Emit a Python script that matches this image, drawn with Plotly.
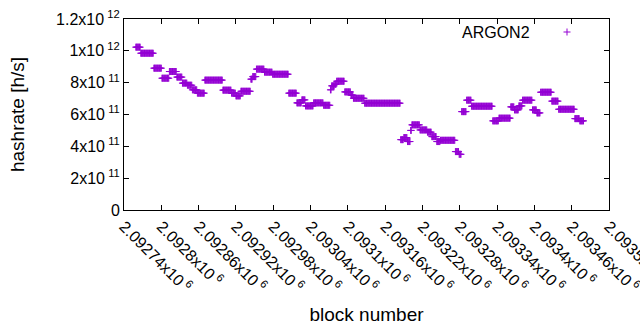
import plotly.graph_objects as go

# Hashrate estimate, run-length encoded: each run starts at a block and holds its value
run_start_block = [
    2092759, 2092767, 2092788, 2092801, 2092813, 2092825, 2092834, 2092842,
    2092850, 2092858, 2092870, 2092899, 2092913, 2092920, 2092928, 2092944,
    2092947, 2092953, 2092966, 2092979, 2093005, 2093018, 2093026, 2093032,
    2093045, 2093061, 2093072, 2093074, 2093079, 2093082, 2093095, 2093105,
    2093109, 2093127, 2093185, 2093190, 2093196, 2093201, 2093203, 2093216,
    2093228, 2093235, 2093243, 2093249, 2093273, 2093279, 2093283, 2093291,
    2093299, 2093333, 2093343, 2093362, 2093368, 2093375, 2093381, 2093397,
    2093404, 2093410, 2093428, 2093439, 2093465, 2093473,
]
run_hashrate_e12 = [
    1.023, 0.985, 0.891, 0.828, 0.870, 0.835, 0.797, 0.784,
    0.755, 0.734, 0.816, 0.753, 0.734, 0.717, 0.746, 0.822,
    0.838, 0.885, 0.866, 0.853, 0.734, 0.673, 0.692, 0.654,
    0.673, 0.658, 0.755, 0.780, 0.790, 0.809, 0.742, 0.722,
    0.702, 0.671, 0.442, 0.455, 0.430, 0.500, 0.535, 0.503,
    0.489, 0.461, 0.430, 0.438, 0.367, 0.350, 0.618, 0.690,
    0.652, 0.560, 0.577, 0.648, 0.629, 0.654, 0.690, 0.629,
    0.610, 0.740, 0.684, 0.633, 0.574, 0.560,
]
last_block = 2093479

x_tick_vals = [2092740, 2092800, 2092860, 2092920, 2092980, 2093040, 2093100,
               2093160, 2093220, 2093280, 2093340, 2093400, 2093460, 2093520]
x_tick_mantissa = ["2.09274", "2.0928", "2.09286", "2.09292", "2.09298", "2.09304",
                   "2.0931", "2.09316", "2.09322", "2.09328", "2.09334", "2.0934",
                   "2.09346", "2.09352"]
y_tick_vals = [0, 2e11, 4e11, 6e11, 8e11, 1e12, 1.2e12]
y_tick_mantissa = ["0", "2", "4", "6", "8", "1", "1.2"]
y_tick_exponent = ["", "11", "11", "11", "11", "12", "12"]

blocks, hashrate = [], []
for i, start in enumerate(run_start_block):
    end = run_start_block[i + 1] if i + 1 < len(run_start_block) else last_block + 1
    for b in range(start, end):
        blocks.append(b)
        hashrate.append(run_hashrate_e12[i] * 1e12)

COLOR = "#9400D3"
FONT = "Liberation Sans, Arial, sans-serif"


def sci(mantissa, exponent):
    if not exponent:
        return mantissa
    return mantissa + "x10\u2009<sup>" + exponent + "</sup>"


fig = go.Figure()
fig.add_trace(go.Scatter(
    x=blocks, y=hashrate, mode="markers", name="ARGON2",
    marker=dict(symbol="cross-thin", size=5, line=dict(color=COLOR, width=1)),
    showlegend=False, hoverinfo="skip",
))

L, R, T, B = 124, 31, 19, 120
W, H = 640, 330
pw, ph = W - L - R, H - T - B


def px_x(px):
    return (px - L) / pw


def px_y(py):
    return (H - B - py) / ph


fig.add_annotation(text="ARGON2", xref="paper", yref="paper", x=px_x(532), y=px_y(32),
                   xanchor="right", yanchor="middle", showarrow=False,
                   font=dict(size=16, color="black", family=FONT))
for (dx0, dx1, dy0, dy1) in [(-3.5, 3.5, 0, 0), (0, 0, -3.5, 3.5)]:
    fig.add_shape(type="line", xref="paper", yref="paper",
                  xsizemode="pixel", ysizemode="pixel",
                  xanchor=px_x(567), yanchor=px_y(32),
                  x0=dx0, x1=dx1, y0=dy0, y1=dy1,
                  line=dict(color=COLOR, width=1))

fig.update_layout(
    width=W, height=H,
    margin=dict(l=L, r=R, t=T, b=B),
    paper_bgcolor="white", plot_bgcolor="white",
    font=dict(family=FONT, size=16, color="black"),
)
fig.update_xaxes(
    range=[2092740, 2093520],
    tickvals=x_tick_vals,
    ticktext=[sci(m, "6") for m in x_tick_mantissa],
    tickangle=45, ticks="inside", ticklen=5, tickcolor="black",
    ticklabeloverflow="allow",
    showline=True, linecolor="black", linewidth=1, mirror="ticks",
    showgrid=False, zeroline=False,
    title=dict(text="block number", standoff=12),
    automargin=False,
)
fig.update_yaxes(
    range=[0, 1.2e12],
    tickvals=y_tick_vals,
    ticktext=[sci(m, e) for m, e in zip(y_tick_mantissa, y_tick_exponent)],
    ticks="inside", ticklen=5, tickcolor="black",
    showline=True, linecolor="black", linewidth=1, mirror="ticks",
    showgrid=False, zeroline=False,
    title=dict(text="hashrate [h/s]", standoff=26),
    automargin=False,
)

fig.write_html(
    "out.html",
    config={"displayModeBar": False},
    post_script="document.body.style.margin='0';document.body.style.overflow='hidden';",
)
